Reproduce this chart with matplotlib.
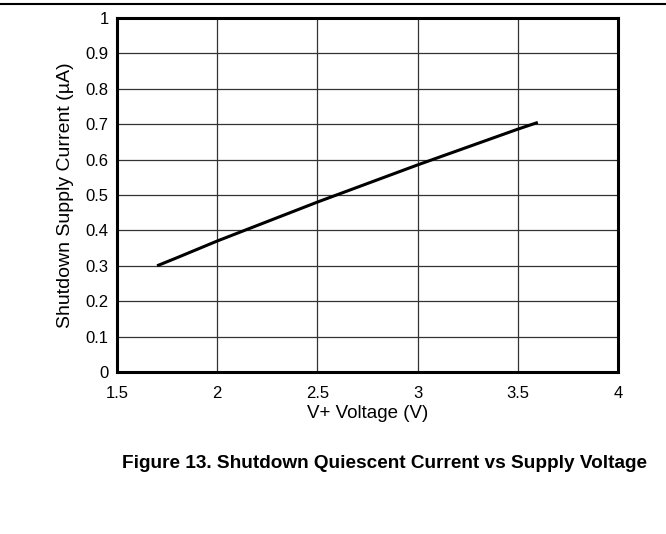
import matplotlib.pyplot as plt
import matplotlib.lines as mlines

plt.rcParams['font.family'] = ['Liberation Sans', 'DejaVu Sans']

# supply voltage (V) vs shutdown supply current (uA)
voltage = [1.7, 1.8, 2.0, 2.5, 3.0, 3.5, 3.6]
current = [0.300, 0.323, 0.370, 0.480, 0.585, 0.686, 0.705]

x_ticks = [1.5, 2, 2.5, 3, 3.5, 4]
x_labels = ['1.5', '2', '2.5', '3', '3.5', '4']
y_ticks = [0, 0.1, 0.2, 0.3, 0.4, 0.5, 0.6, 0.7, 0.8, 0.9, 1]
y_labels = ['0', '0.1', '0.2', '0.3', '0.4', '0.5', '0.6', '0.7', '0.8', '0.9', '1']

W, H = 666, 534
fig = plt.figure(figsize=(W / 100, H / 100), dpi=100)
ax = fig.add_axes([117 / W, 1 - 372 / H, (618 - 117) / W, (372 - 18) / H])

ax.plot(voltage, current, color='black', linewidth=2.2, solid_capstyle='butt')

ax.set_xlim(1.5, 4)
ax.set_ylim(0, 1)
ax.set_xticks(x_ticks)
ax.set_xticklabels(x_labels)
ax.set_yticks(y_ticks)
ax.set_yticklabels(y_labels)
ax.tick_params(length=0, labelsize=12, pad=6, colors='black')
ax.tick_params(axis='x', pad=10)
ax.grid(True, color='#333333', linewidth=0.9)
for sp in ax.spines.values():
    sp.set_linewidth(2.2)
    sp.set_color('black')

ax.set_xlabel('V+ Voltage (V)', fontsize=13.5, labelpad=3)
ax.set_ylabel('Shutdown Supply Current (µA)', fontsize=14, labelpad=8)

# top rule across the page
fig.add_artist(mlines.Line2D([0, 1], [1 - 4 / H, 1 - 4 / H], color='black', linewidth=1.5))

fig.text(384 / W, 1 - 463 / H,
         'Figure 13. Shutdown Quiescent Current vs Supply Voltage',
         ha='center', va='center', fontsize=13.7, fontweight='bold')

fig.savefig('out.png', dpi=100)
